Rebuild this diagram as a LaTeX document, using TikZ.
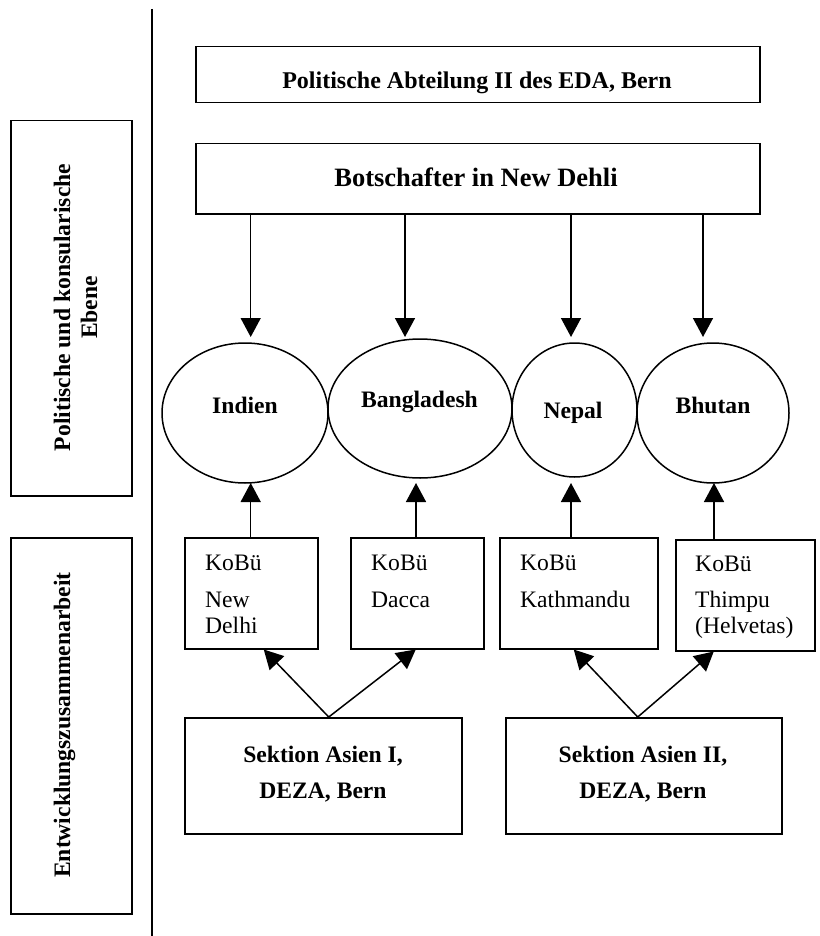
\documentclass[tikz,border=0pt]{standalone}
\usepackage{fontspec}
\setmainfont{Liberation Serif}
\usetikzlibrary{arrows.meta,shapes.geometric,calc}
\begin{document}
\begin{tikzpicture}[x=1pt,y=-1pt,
  box/.style={draw,line width=1.5pt,rectangle,inner sep=0pt,anchor=north west},
  oval/.style={draw,line width=1.5pt,ellipse,inner sep=0pt},
  arr/.style={line width=1.5pt,-{Triangle[length=19pt,width=20pt]}},
  bt/.style={font=\fontsize{23.6}{28}\selectfont\bfseries,inner sep=0pt,anchor=base},
  rt/.style={font=\fontsize{23.6}{28}\selectfont,inner sep=0pt,anchor=base west},
  vt/.style={bt,rotate=90},
]
\useasboundingbox (0,0) rectangle (819,936);

% separator
\draw[line width=1.5pt] (152,9) -- (152,936);

% left level boxes
\node[box,minimum width=121,minimum height=375] (l1) at (10,120) {};
\node[vt] (l1a) at (70,307.5) {Politische und konsularische};
\node[vt] (l1b) at (97,307.5) {Ebene};
\node[box,minimum width=121,minimum height=376] (l2) at (10,537) {};
\node[vt] (l2a) at (70,725) {Entwicklungszusammenarbeit};

% top boxes
\node[box,minimum width=564,minimum height=56] (eda) at (195,46) {};
\node[bt,font=\fontsize{24}{28}\selectfont\bfseries] (edat) at (477,89) {Politische Abteilung II des EDA, Bern};
\node[box,minimum width=564,minimum height=70] (bot) at (195,143) {};
\node[bt,font=\fontsize{26.5}{30}\selectfont\bfseries] (bott) at (476,186) {Botschafter in New Dehli};

% ellipses
\node[oval,minimum width=166,minimum height=140] (ind) at (245,413) {};
\node[oval,minimum width=184,minimum height=139] (ban) at (420,408.5) {};
\node[oval,minimum width=125,minimum height=134] (nep) at (574.5,410) {};
\node[oval,minimum width=152,minimum height=140] (bhu) at (713,413) {};
\node[bt] (indt) at (245,413) {Indien};
\node[bt] (bant) at (419.5,407) {Bangladesh};
\node[bt] (nept) at (573,418) {Nepal};
\node[bt] (bhut) at (713,413) {Bhutan};

% arrows from embassy
\coordinate (t1) at (250.7,337);
\coordinate (t2) at (405,337);
\coordinate (t3) at (571,337);
\coordinate (t4) at (703,337);
\foreach \t in {t1,t2,t3,t4} \draw[arr] (\t |- bot.south) -- (\t);

% KoBue boxes
\node[box,minimum width=133,minimum height=111] (k1) at (184,537) {};
\node[box,minimum width=133,minimum height=111] (k2) at (350,537) {};
\node[box,minimum width=158,minimum height=111] (k3) at (499,537) {};
\node[box,minimum width=139,minimum height=111] (k4) at (675,539) {};
\node[rt] (k1a) at (205,570) {KoBü};
\node[rt] (k1b) at (205,607) {New};
\node[rt] (k1c) at (205,633) {Delhi};
\node[rt] (k2a) at (371,570) {KoBü};
\node[rt] (k2b) at (371,607) {Dacca};
\node[rt] (k3a) at (520,570) {KoBü};
\node[rt] (k3b) at (520,607) {Kathmandu};
\node[rt] (k4a) at (695,571) {KoBü};
\node[rt] (k4b) at (695,607) {Thimpu};
\node[rt] (k4c) at (695,633) {(Helvetas)};

% arrows from KoBue to countries
\coordinate (b1) at (250.7,483);
\coordinate (b2) at (416,483);
\coordinate (b3) at (571,483);
\coordinate (b4) at (714,483);
\draw[arr] (b1 |- k1.north) -- (b1);
\draw[arr] (b2 |- k2.north) -- (b2);
\draw[arr] (b3 |- k3.north) -- (b3);
\draw[arr] (b4 |- k4.north) -- (b4);

% Sektion boxes
\node[box,minimum width=277,minimum height=116] (s1) at (184,717) {};
\node[box,minimum width=276,minimum height=116] (s2) at (505,717) {};
\node[bt] (s1a) at (323,762) {Sektion Asien I,};
\node[bt] (s1b) at (323,798) {DEZA, Bern};
\node[bt] (s2a) at (643,762) {Sektion Asien II,};
\node[bt] (s2b) at (643,798) {DEZA, Bern};

% diagonal arrows
\draw[arr] ($(s1.north)+(5.5,0)$) -- ($(k1.south)+(12.5,0)$);
\draw[arr] ($(s1.north)+(5.5,0)$) -- ($(k2.south)+(-1.5,0)$);
\draw[arr] ($(s2.north)+(-6,0)$) -- ($(k3.south)+(-5,0)$);
\draw[arr] ($(s2.north)+(-6,0)$) -- ($(k4.south)+(-31.5,0)$);
\end{tikzpicture}
\end{document}
